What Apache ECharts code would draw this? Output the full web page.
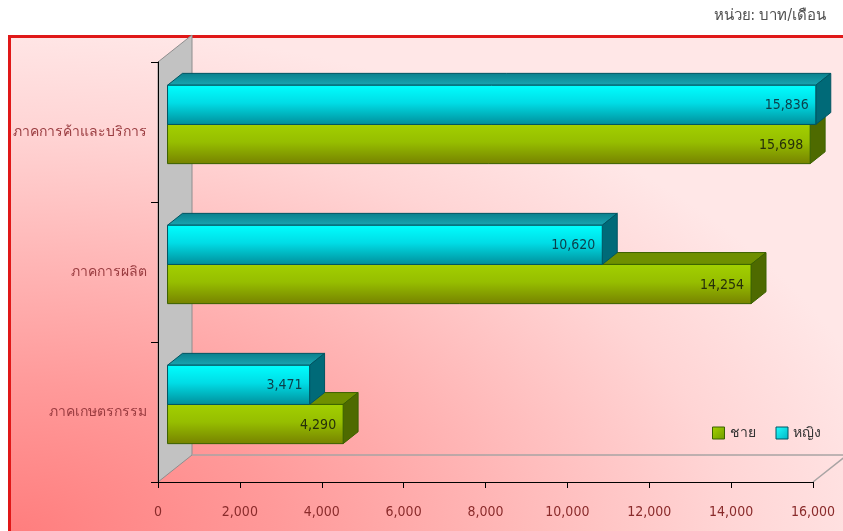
<!DOCTYPE html>
<html>
<head>
<meta charset="utf-8">
<script src="https://cdn.jsdelivr.net/npm/echarts@6/dist/echarts.min.js"></script>
<style>
  html, body { margin: 0; padding: 0; background: #ffffff; }
  #chart { width: 843px; height: 531px; }
</style>
</head>
<body>
<div id="chart"></div>
<script>
// Average monthly wage by sector, baht per month
const categories = ['ภาคเกษตรกรรม', 'ภาคการผลิต', 'ภาคการค้าและบริการ'];
const maleValues = [4290, 14254, 15698];
const femaleValues = [3471, 10620, 15836];
const seriesNames = ['ชาย', 'หญิง'];
const unitText = 'หน่วย: บาท/เดือน';
const axisMax = 16000;
const axisStep = 2000;

const FONT = "Tahoma, 'DejaVu Sans Condensed', 'DejaVu Sans', sans-serif";
// Depth of the 3D box (screen offset of the back plane)
const DEPTH_X = 34;
const DEPTH_Y = -27;
const BAR_FRONT = 0.28;   // bars start at this fraction of depth
const BAR_DEPTH = 0.44;   // and occupy this fraction of depth
const BAR_RATIO = 0.28;   // bar thickness relative to category band

const palettes = {
  male: {
    front: new echarts.graphic.LinearGradient(0, 0, 0, 1, [
      { offset: 0, color: '#a2d000' },
      { offset: 0.45, color: '#96be00' },
      { offset: 1, color: '#768200' }
    ]),
    top: '#6f8f00',
    side: '#4e6a00',
    edge: '#3b6200',
    text: '#26300a',
    legend: new echarts.graphic.LinearGradient(0, 0, 1, 1, [
      { offset: 0, color: '#a6d400' },
      { offset: 1, color: '#6e9a00' }
    ])
  },
  female: {
    front: new echarts.graphic.LinearGradient(0, 0, 0, 1, [
      { offset: 0, color: '#00ffff' },
      { offset: 0.45, color: '#00dde6' },
      { offset: 1, color: '#008e9a' }
    ]),
    top: new echarts.graphic.LinearGradient(0, 0, 0, 1, [
      { offset: 0, color: '#0b7f8c' },
      { offset: 1, color: '#1aa6b2' }
    ]),
    side: '#006a78',
    edge: '#005562',
    text: '#0b3f4a',
    legend: new echarts.graphic.LinearGradient(0, 0, 1, 1, [
      { offset: 0, color: '#20ffff' },
      { offset: 1, color: '#00b4c4' }
    ])
  }
};

function barRenderer(upper, pal) {
  return function (params, api) {
    const v = api.value(0);
    const c = api.value(1);
    const start = api.coord([0, c]);
    const end = api.coord([v, c]);
    const band = api.size([0, 1])[1];
    const h = band * BAR_RATIO;
    const fx = DEPTH_X * BAR_FRONT, fy = DEPTH_Y * BAR_FRONT;
    const dx = DEPTH_X * BAR_DEPTH, dy = DEPTH_Y * BAR_DEPTH;
    const x0 = start[0] + fx;
    const x1 = end[0] + fx;
    const mid = start[1] + fy;
    const top = upper ? mid - h : mid;
    const edge = { stroke: pal.edge, lineWidth: 1 };
    return {
      type: 'group',
      children: [
        {
          type: 'polygon',
          shape: { points: [[x0, top], [x0 + dx, top + dy], [x1 + dx, top + dy], [x1, top]] },
          style: Object.assign({ fill: pal.top }, edge)
        },
        {
          type: 'polygon',
          shape: { points: [[x1, top], [x1 + dx, top + dy], [x1 + dx, top + h + dy], [x1, top + h]] },
          style: Object.assign({ fill: pal.side }, edge)
        },
        {
          type: 'rect',
          shape: { x: x0, y: top, width: x1 - x0, height: h },
          style: Object.assign({ fill: pal.front }, edge)
        },
        {
          type: 'text',
          x: x1 - 7,
          y: top + h / 2 + 1,
          style: {
            text: echarts.format.addCommas(v),
            align: 'right',
            verticalAlign: 'middle',
            fill: pal.text,
            font: '14px ' + FONT
          }
        }
      ]
    };
  };
}

// Left wall and floor of the 3D box
function boxRenderer(params, api) {
  const cs = params.coordSys;
  const L = cs.x, T = cs.y, R = cs.x + cs.width, B = cs.y + cs.height;
  return {
    type: 'group',
    children: [
      {
        type: 'polygon',
        shape: { points: [[L, T], [L + DEPTH_X, T + DEPTH_Y], [L + DEPTH_X, B + DEPTH_Y], [L, B]] },
        style: { fill: '#c2c2c2', stroke: '#8e8e8e', lineWidth: 1 }
      },
      {
        type: 'polyline',
        shape: { points: [[L + DEPTH_X, B + DEPTH_Y], [R + DEPTH_X, B + DEPTH_Y], [R, B]] },
        style: { fill: null, stroke: '#a9a4a4', lineWidth: 1.5 }
      }
    ]
  };
}

const chart = echarts.init(document.getElementById('chart'), null, { renderer: 'canvas' });

const FILL_W = 480;
const option = {
  backgroundColor: '#ffffff',
  animation: false,
  textStyle: { fontFamily: FONT },
  graphic: [
    {
      type: 'rect',
      z: -20,
      x: 10,
      y: 36,
      scaleX: 1.76,
      shape: { x: 0, y: 0, width: FILL_W, height: 500 },
      style: {
        fill: new echarts.graphic.RadialGradient(0, 1, 510 / FILL_W, [
          { offset: 0, color: '#ff7d7d' },
          { offset: 0.3, color: '#ff9a9a' },
          { offset: 0.55, color: '#ffb7b7' },
          { offset: 0.8, color: '#ffd5d5' },
          { offset: 1, color: '#ffe7e7' }
        ])
      }
    },
    {
      type: 'rect',
      z: -19,
      shape: { x: 9.5, y: 36.5, width: 900, height: 600 },
      style: { fill: null, stroke: '#e01818', lineWidth: 3 }
    },
    {
      type: 'text',
      right: 17,
      top: 9,
      style: { text: unitText, font: '15px ' + FONT, fill: '#505050' }
    }
  ],
  legend: {
    left: 707,
    top: 421,
    itemWidth: 12,
    itemHeight: 12,
    itemGap: 20,
    icon: 'rect',
    textStyle: { fontSize: 14, color: '#333333', fontFamily: FONT },
    data: [
      { name: seriesNames[0], itemStyle: { color: palettes.male.legend, borderColor: '#3b6200', borderWidth: 1 } },
      { name: seriesNames[1], itemStyle: { color: palettes.female.legend, borderColor: '#005562', borderWidth: 1 } }
    ]
  },
  grid: { left: 158, right: 30, top: 62, bottom: 49, outerBoundsMode: 'none', containLabel: false },
  xAxis: {
    type: 'value',
    min: 0,
    max: axisMax,
    interval: axisStep,
    z: 10,
    axisLine: { show: true, lineStyle: { color: '#000000', width: 1 } },
    axisTick: { show: true, length: 6, lineStyle: { color: '#000000' } },
    splitLine: { show: false },
    axisLabel: {
      margin: 23,
      fontSize: 14,
      color: '#8a2b2b',
      fontFamily: FONT,
      formatter: function (v) { return echarts.format.addCommas(v); }
    }
  },
  yAxis: {
    type: 'category',
    data: categories,
    z: 10,
    axisLine: { show: true, lineStyle: { color: '#000000', width: 1 } },
    axisTick: { show: true, length: 7, lineStyle: { color: '#000000' } },
    axisLabel: { margin: 11, fontSize: 14, color: '#9a3c40', fontFamily: FONT }
  },
  series: [
    {
      name: 'box',
      type: 'custom',
      silent: true,
      z: 1,
      renderItem: boxRenderer,
      data: [[0, 0]],
      encode: { x: 0, y: 1 }
    },
    {
      name: seriesNames[0],
      type: 'custom',
      z: 3,
      itemStyle: { color: '#8fbf00' },
      renderItem: barRenderer(false, palettes.male),
      data: maleValues.map(function (v, i) { return [v, i]; }),
      encode: { x: 0, y: 1 }
    },
    {
      name: seriesNames[1],
      type: 'custom',
      z: 4,
      itemStyle: { color: '#00d8e6' },
      renderItem: barRenderer(true, palettes.female),
      data: femaleValues.map(function (v, i) { return [v, i]; }),
      encode: { x: 0, y: 1 }
    }
  ]
};

chart.setOption(option);
</script>
</body>
</html>
